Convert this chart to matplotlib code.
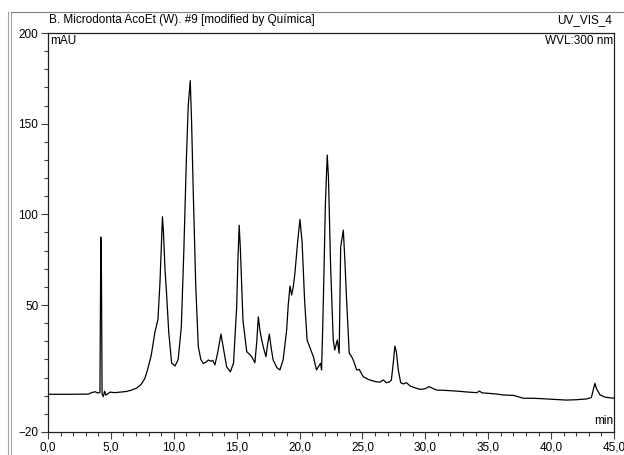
import matplotlib
matplotlib.use('Agg')
import matplotlib.pyplot as plt
from matplotlib.lines import Line2D
import numpy as np

plt.rcParams['font.family'] = ['Liberation Sans', 'DejaVu Sans']

# retention time (min) and absorbance (mAU)
time_min = [0.0, 2.0, 3.2, 3.5, 3.76, 3.95, 4.13, 4.2, 4.25, 4.3, 4.4, 4.5, 4.6,
            4.93, 5.3, 5.72, 6.2, 6.6, 7.05, 7.4, 7.7, 7.9, 8.2, 8.5, 8.74, 8.9,
            9.0, 9.1, 9.18, 9.3, 9.43, 9.6, 9.83, 10.1, 10.35, 10.6, 10.8, 11.0,
            11.15, 11.31, 11.42, 11.55, 11.75, 11.95, 12.15, 12.35, 12.55, 12.75,
            12.95, 13.1, 13.27, 13.5, 13.75, 13.9, 14.2, 14.5, 14.75, 15.0, 15.1,
            15.2, 15.3, 15.5, 15.8, 16.0, 16.2, 16.45, 16.6, 16.72, 16.85, 16.99,
            17.15, 17.33, 17.45, 17.6, 17.75, 17.9, 18.2, 18.44, 18.7, 18.97,
            19.1, 19.24, 19.37, 19.5, 19.63, 19.85, 20.03, 20.2, 20.4, 20.6,
            20.8, 21.1, 21.35, 21.5, 21.67, 21.75, 21.85, 21.94, 22.05, 22.2,
            22.3, 22.47, 22.68, 22.8, 23.0, 23.15, 23.27, 23.48, 23.6, 23.74,
            23.95, 24.1, 24.27, 24.54, 24.75, 24.9, 25.06, 25.46, 25.8, 26.1,
            26.4, 26.65, 26.9, 27.15, 27.3, 27.45, 27.58, 27.7, 27.85, 28.04,
            28.25, 28.5, 28.8, 29.2, 29.6, 29.95, 30.3, 30.6, 30.9, 31.4, 31.95,
            32.75, 33.4, 34.1, 34.3, 34.5, 35.0, 35.6, 36.2, 37.0, 37.8, 38.5,
            39.2, 40.2, 41.2, 42.0, 42.8, 43.2, 43.38, 43.48, 43.6, 43.9, 44.3,
            44.95, 45.0]
absorb_mau = [0.8, 0.8, 0.9, 1.8, 2.2, 1.5, 1.8, 87.5, 66.0, 1.0, -0.5, 2.5, 0.3,
              2.0, 1.7, 2.0, 2.3, 3.0, 4.2, 6.2, 9.5, 14.0, 22.0, 35.0, 42.0, 62.0,
              80.0, 98.7, 90.0, 70.0, 56.0, 35.0, 18.0, 16.4, 20.0, 38.0, 80.0, 130.0,
              160.0, 173.7, 150.0, 112.0, 60.0, 27.0, 20.0, 17.8, 18.5, 19.7,
              19.0, 19.5, 17.0, 24.0, 34.0, 28.0, 16.0, 13.2, 18.0, 49.0, 75.0,
              94.0, 80.0, 41.7, 24.3, 23.0, 21.5, 18.2, 30.0, 43.5, 36.0, 30.7,
              26.0, 21.5, 28.0, 34.0, 26.0, 19.7, 15.5, 14.2, 20.0, 36.0,
              50.0, 60.5, 55.5, 60.0, 67.5, 85.0, 97.2, 85.0, 52.8, 30.7,
              27.0, 21.5, 14.2, 16.0, 17.9, 14.2, 40.0, 67.5, 105.0, 132.7,
              120.0, 71.0, 30.7, 25.2, 30.7, 23.4, 82.0, 91.3, 75.0, 52.8,
              23.4, 22.0, 19.7, 14.2, 14.5, 12.5, 10.5, 9.0, 8.2, 7.7,
              7.5, 8.7, 7.2, 7.6, 8.7, 18.0, 27.4, 24.0, 14.2, 7.2,
              6.5, 7.2, 5.3, 4.3, 3.5, 3.8, 5.0, 4.0, 3.1, 3.0, 2.8,
              2.4, 2.0, 1.7, 2.6, 1.6, 1.3, 1.0, 0.4, 0.2, -1.4, -1.4,
              -1.6, -2.0, -2.4, -2.2, -1.8, -1.0, 4.0, 6.8, 4.0, 0.4, -0.8,
              -1.4, -1.4]

x_major = [0, 5, 10, 15, 20, 25, 30, 35, 40, 45]
x_labels = ['0,0', '5,0', '10,0', '15,0', '20,0', '25,0', '30,0', '35,0', '40,0', '45,0']
y_major = [-20, 50, 100, 150, 200]

W, H = 624, 455
fig = plt.figure(figsize=(W / 100, H / 100), dpi=100)
ax = fig.add_axes([48 / W, 1 - 432 / H, (614 - 48) / W, (432 - 33) / H])

ax.plot(time_min, absorb_mau, color='black', lw=0.9)
ax.set_xlim(0, 45)
ax.set_ylim(-20, 200)

ax.set_xticks(x_major)
ax.set_xticklabels(x_labels)
ax.set_xticks(np.arange(0, 46, 1), minor=True)
ax.set_yticks(y_major)
ax.set_yticks(np.arange(-20, 201, 10), minor=True)

ax.tick_params(axis='both', which='major', labelsize=8.5, length=5, width=0.8,
               color='#404040', pad=2)
ax.tick_params(axis='both', which='minor', length=3, width=0.8, color='#404040')
for s in ax.spines.values():
    s.set_linewidth(0.9)
    s.set_color('#202020')

ax.text(0.003, 0.995, 'mAU', transform=ax.transAxes, ha='left', va='top', fontsize=8.5)
ax.text(0.998, 0.995, 'WVL:300 nm', transform=ax.transAxes, ha='right', va='top', fontsize=8.5)
ax.text(0.998, 0.012, 'min', transform=ax.transAxes, ha='right', va='bottom', fontsize=8.5)
fig.text(49 / W, 1 - 20 / H, 'B. Microdonta AcoEt (W). #9 [modified by Química]',
         ha='left', va='center', fontsize=8.5)
fig.text(612 / W, 1 - 20 / H, 'UV_VIS_4', ha='right', va='center', fontsize=8.5)

# window frame
for xp in (8, 11):
    fig.add_artist(Line2D([xp / W, xp / W], [0, 1 - 12 / H], color='#a0a0a0', lw=0.8))
fig.add_artist(Line2D([11 / W, 1], [1 - 12 / H, 1 - 12 / H], color='#808080', lw=0.8))

fig.savefig('out.png', dpi=100)
